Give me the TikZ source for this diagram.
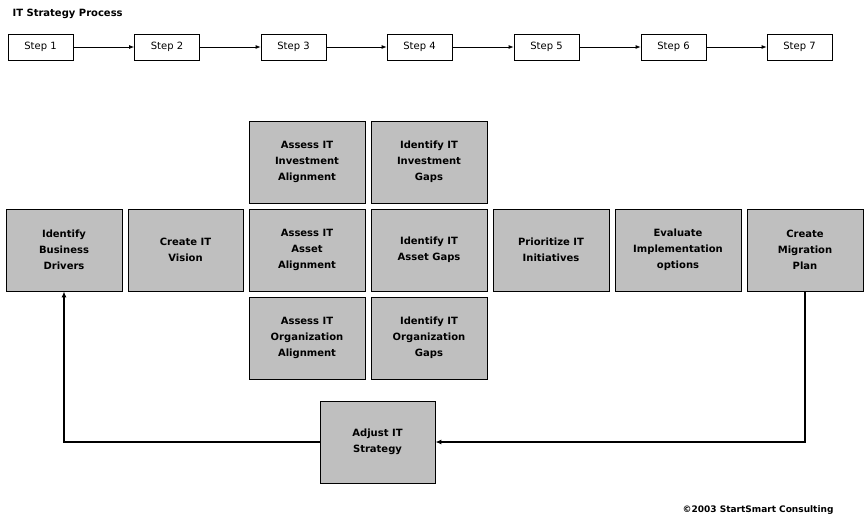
\documentclass[tikz,border=0pt]{standalone}
\usepackage{fontspec}
\setmainfont{DejaVu Sans}
\usetikzlibrary{arrows.meta}
\begin{document}
\begin{tikzpicture}[x=1pt,y=-1pt,
 stepbox/.style={draw,line width=0.8pt,fill=white,minimum width=65pt,minimum height=26pt,inner sep=0pt,font=\fontsize{10}{12}\selectfont},
 bigbox/.style={draw,line width=0.8pt,fill=black!25,minimum width=116pt,minimum height=82pt,inner sep=1pt,align=center,font=\fontsize{10}{16}\selectfont\bfseries},
 conn/.style={line width=0.8pt,-{Latex[length=5pt,width=4pt]}},
 link/.style={line width=1.3pt,-{Latex[length=6pt,width=5pt]}}]
\useasboundingbox (0,0) rectangle (866,522);
\node[anchor=west,font=\fontsize{10}{12}\selectfont\bfseries] (title) at (9,14) {IT Strategy Process};
\node[stepbox] (s1) at (40.5,47) {Step 1};
\node[stepbox] (s2) at (167,47) {Step 2};
\node[stepbox] (s3) at (293.5,47) {Step 3};
\node[stepbox] (s4) at (419.5,47) {Step 4};
\node[stepbox] (s5) at (546.5,47) {Step 5};
\node[stepbox] (s6) at (673.5,47) {Step 6};
\node[stepbox] (s7) at (799.5,47) {Step 7};
\foreach \a/\b in {s1/s2,s2/s3,s3/s4,s4/s5,s5/s6,s6/s7} \draw[conn] (\a) -- (\b);
\node[bigbox] (ibd) at (64,250) {Identify\\Business\\Drivers};
\node[bigbox,minimum width=115pt] (civ) at (185.5,250) {Create IT\\Vision};
\node[bigbox] (aia) at (307,250) {Assess IT\\Asset\\Alignment};
\node[bigbox] (iag) at (429,250) {Identify IT\\Asset Gaps};
\node[bigbox] (pri) at (551,250) {Prioritize IT\\Initiatives};
\node[bigbox,minimum width=126pt] (eval) at (678,250) {Evaluate\\Implementation\\options};
\node[bigbox] (cmp) at (805,250) {Create\\Migration\\Plan};
\node[bigbox] (aiia) at (307,162) {Assess IT\\Investment\\Alignment};
\node[bigbox] (iiig) at (429,162) {Identify IT\\Investment\\Gaps};
\node[bigbox] (aioa) at (307,338) {Assess IT\\Organization\\Alignment};
\node[bigbox] (iiog) at (429,338) {Identify IT\\Organization\\Gaps};
\node[bigbox,minimum width=115pt] (adj) at (377.5,442) {Adjust IT\\Strategy};
\draw[link] (cmp.south) |- (adj.east);
\draw[link] (adj.west) -| (ibd.south);
\node[anchor=east,font=\fontsize{9}{11}\selectfont\bfseries] (copy) at (837,510) {©2003 StartSmart Consulting};
\end{tikzpicture}
\end{document}
